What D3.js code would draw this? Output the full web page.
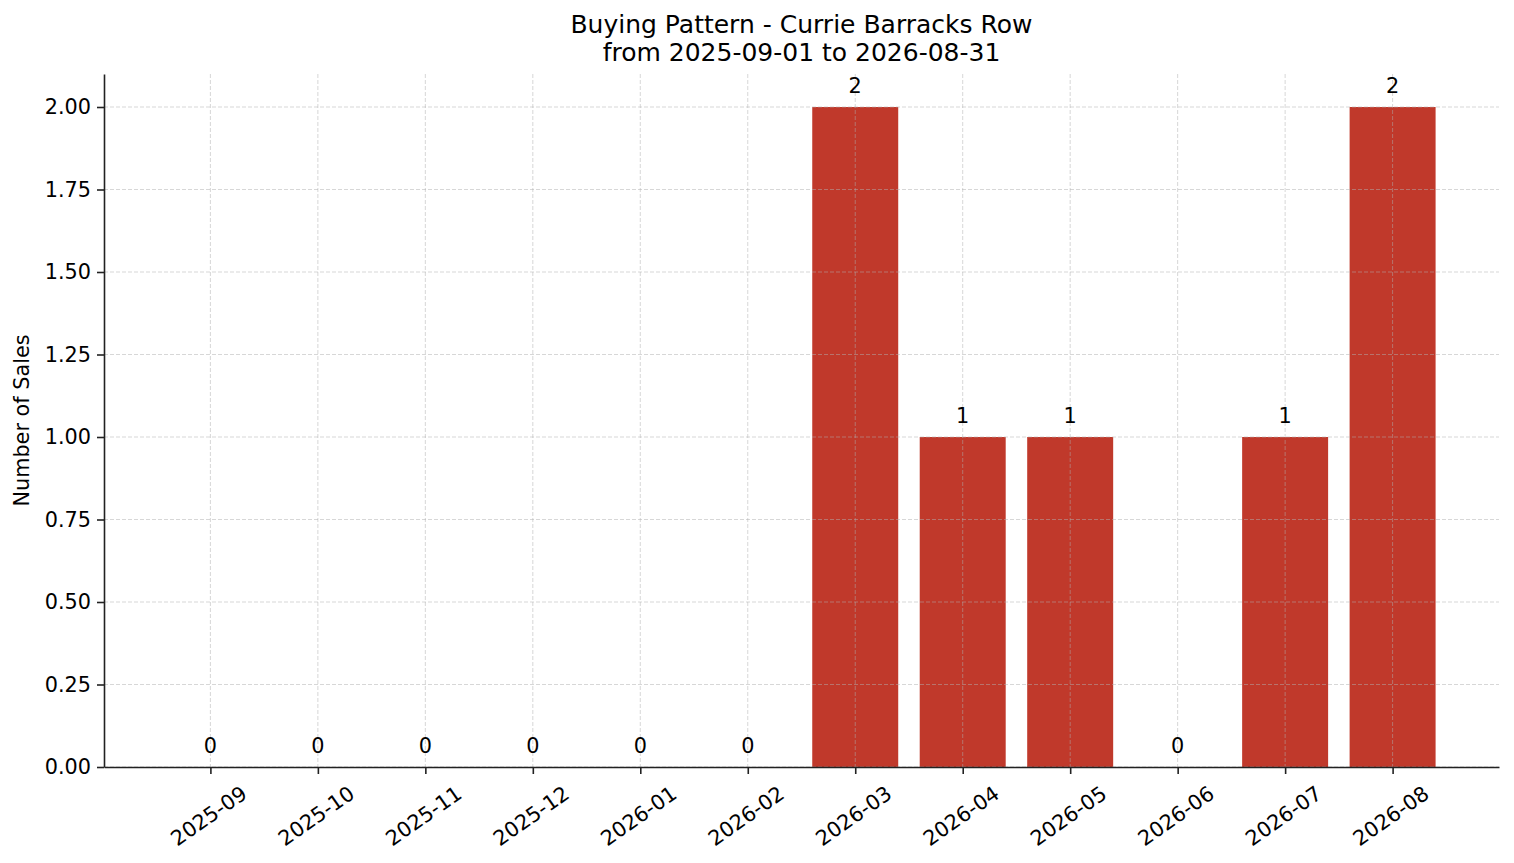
<!DOCTYPE html>
<html>
<head>
<meta charset="utf-8">
<script src="https://cdn.jsdelivr.net/npm/d3@7"></script>
<style>
  body { margin: 0; background: #fff; }
  svg, svg text { font-family: "DejaVu Sans", sans-serif; }
</style>
</head>
<body>
<div id="chart"></div>
<script>
const months = ["2025-09", "2025-10", "2025-11", "2025-12", "2026-01", "2026-02",
  "2026-03", "2026-04", "2026-05", "2026-06", "2026-07", "2026-08"];
const sales = [0, 0, 0, 0, 0, 0, 2, 1, 1, 0, 1, 2];
const y_ticks = [0, 0.25, 0.5, 0.75, 1.0, 1.25, 1.5, 1.75, 2.0];
const title_lines = ["Buying Pattern - Currie Barracks Row", "from 2025-09-01 to 2026-08-31"];

const width = 1514;
const height = 863;
const margin = { top: 74, right: 15, bottom: 96, left: 104 };

const font_px = 20.8;

const svg = d3.select("#chart")
  .append("svg")
  .attr("width", width)
  .attr("height", height);

const inner_w = width - margin.left - margin.right;
const inner_h = height - margin.top - margin.bottom;

const g = svg.append("g")
  .attr("transform", `translate(${margin.left},${margin.top})`);

// matplotlib style: bars of width 0.8 plus 5% margins
const n = months.length;
const xlo = -0.4, xhi = n - 1 + 0.4;
const pad = (xhi - xlo) * 0.05;
const x = d3.scaleLinear()
  .domain([xlo - pad, xhi + pad])
  .range([0, inner_w]);

const y = d3.scaleLinear()
  .domain([0, 2.1])
  .range([inner_h, 0]);

// bars
g.selectAll("rect.bar")
  .data(sales)
  .enter()
  .append("rect")
  .attr("class", "bar")
  .attr("x", (d, i) => x(i - 0.4))
  .attr("width", x(0.8) - x(0))
  .attr("y", (d) => y(d))
  .attr("height", (d) => y(0) - y(d))
  .attr("fill", "#c0392b");

// grid (drawn on top, light dashed)
const grid = g.append("g").attr("class", "grid");
grid.selectAll("line.hy")
  .data(y_ticks)
  .enter()
  .append("line")
  .attr("x1", 0)
  .attr("x2", inner_w)
  .attr("y1", (d) => y(d))
  .attr("y2", (d) => y(d))
  .attr("stroke", "#b0b0b0")
  .attr("stroke-opacity", 0.5)
  .attr("stroke-width", 1)
  .attr("stroke-dasharray", "4,2");
grid.selectAll("line.vx")
  .data(months)
  .enter()
  .append("line")
  .attr("x1", (d, i) => x(i))
  .attr("x2", (d, i) => x(i))
  .attr("y1", 0)
  .attr("y2", inner_h)
  .attr("stroke", "#b0b0b0")
  .attr("stroke-opacity", 0.5)
  .attr("stroke-width", 1)
  .attr("stroke-dasharray", "4,2");

// value labels
g.selectAll("text.val")
  .data(sales)
  .enter()
  .append("text")
  .attr("class", "val")
  .attr("x", (d, i) => x(i))
  .attr("y", (d) => y(d) - 14)
  .attr("text-anchor", "middle")
  .attr("font-size", font_px)
  .attr("fill", "#000")
  .text((d) => d);

// axes
const x_axis = d3.axisBottom(x)
  .tickValues(d3.range(n))
  .tickFormat((i) => months[i])
  .tickSizeInner(7)
  .tickSizeOuter(0)
  .tickPadding(6);

const xg = g.append("g")
  .attr("transform", `translate(0,${inner_h})`)
  .call(x_axis)
  .attr("font-family", "DejaVu Sans")
  .attr("font-size", font_px);
xg.select(".domain").attr("stroke", "#222").attr("stroke-width", 1.6);
xg.selectAll(".tick line").attr("stroke", "#222").attr("stroke-width", 1.6);
// rotated labels, bbox centred under tick (like matplotlib rotation=35)
xg.selectAll(".tick text")
  .attr("fill", "#000")
  .attr("text-anchor", "middle")
  .attr("dominant-baseline", "central")
  .attr("dy", null)
  .attr("y", 0)
  .attr("transform", "translate(-2,49) rotate(-35)");

const y_axis = d3.axisLeft(y)
  .tickValues(y_ticks)
  .tickFormat(d3.format(".2f"))
  .tickSizeInner(7)
  .tickSizeOuter(0)
  .tickPadding(6);

const yg = g.append("g").call(y_axis)
  .attr("font-family", "DejaVu Sans")
  .attr("font-size", font_px);
yg.select(".domain").attr("stroke", "#222").attr("stroke-width", 1.6);
yg.selectAll(".tick line").attr("stroke", "#222").attr("stroke-width", 1.6);
yg.selectAll(".tick text").attr("fill", "#000");

// y label
svg.append("text")
  .attr("transform", `translate(29,${margin.top + inner_h / 2}) rotate(-90)`)
  .attr("text-anchor", "middle")
  .attr("font-size", font_px)
  .text("Number of Sales");

// title
svg.selectAll("text.title")
  .data(title_lines)
  .enter()
  .append("text")
  .attr("class", "title")
  .attr("x", margin.left + inner_w / 2)
  .attr("y", (d, i) => 33 + i * 28)
  .attr("text-anchor", "middle")
  .attr("font-size", 25)
  .text((d) => d);
</script>
</body>
</html>
